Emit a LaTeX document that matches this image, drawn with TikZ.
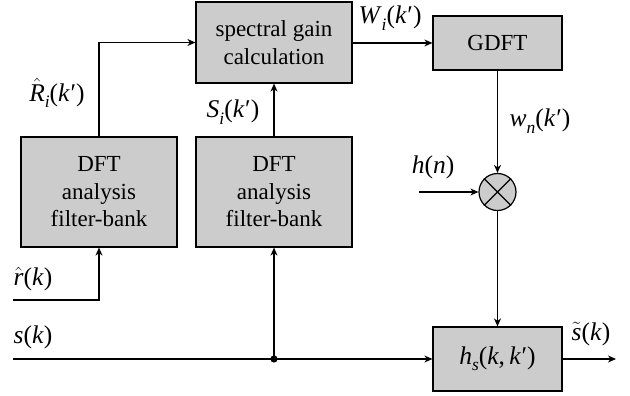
\documentclass[tikz,border=0pt]{standalone}
\usepackage{fontspec}
\setmainfont{Liberation Serif}
\usetikzlibrary{arrows.meta}
\newcommand{\mi}[1]{\textit{#1}}
\newcommand{\sbs}[1]{\raisebox{-0.25em}{\fontsize{17.5}{17.5}\selectfont\itshape #1}}
\newcommand{\prm}{\kern0.7pt′}
\tikzset{
  blk/.style={draw, fill=black!20, line width=1.2pt, inner sep=0pt, align=center},
  conn/.style={line width=1.2pt},
  arr/.style={conn, -{Stealth[length=8pt,width=7pt,inset=2.5pt]}},
  lbl/.style={inner sep=0pt, font=\fontsize{25.5}{30}\selectfont}
}
\begin{document}
\begin{tikzpicture}[x=1pt,y=-1pt,font=\fontsize{23}{27.5}\selectfont]
\useasboundingbox (0,0) rectangle (630,396);
\node[blk, minimum width=156pt, minimum height=81pt] (spec) at (274,42.5) {spectral gain\\calculation};
\node[blk, minimum width=129pt, minimum height=54pt] (gdft) at (497.5,43) {GDFT};
\node[blk, minimum width=156pt, minimum height=110pt] (dft1) at (99,192) {DFT\\analysis\\filter-bank};
\node[blk, minimum width=156pt, minimum height=110pt] (dft2) at (274,192) {DFT\\analysis\\filter-bank};
\node[blk, minimum width=129pt, minimum height=64pt, font=\fontsize{25.5}{30}\selectfont] (hs) at (497.5,359) {\mi{h}\sbs{s}(\mi{k},\,\mi{k}\prm)};
\node[draw, fill=black!20, circle, line width=1.2pt, minimum size=37pt, inner sep=0pt] (mul) at (497.5,192) {};
\draw[line width=1.2pt] (mul.north west) -- (mul.south east) (mul.north east) -- (mul.south west);
% coordinates
\coordinate (rin) at (13,300);
\coordinate (sin) at (13,359);
\coordinate (hin) at (419,192);
\coordinate (out) at (616,359);
\coordinate (split) at (274,359);
% connectors
\draw[arr] (dft1.north) |- (spec.west);
\draw[arr] (dft2.north) -- (spec.south);
\draw[arr] (spec.east |- gdft.west) -- (gdft.west);
\draw[arr] (gdft.south) -- (mul.north);
\draw[arr] (hin) -- (mul.west);
\draw[arr] (mul.south) -- (hs.north);
\draw[arr] (rin) -| (dft1.south);
\draw[arr] (sin) -- (hs.west);
\draw[arr] (split) -- (dft2.south);
\fill (split) circle (3.6pt);
\draw[arr] (hs.east) -- (out);
% labels
\node[lbl] (lR) at (57,93) {$\hat{\mbox{\itshape R}}$\sbs{i}(\mi{k}\prm)};
\node[lbl] (lS) at (233,112) {\mi{S}\sbs{i}(\mi{k}\prm)};
\node[lbl] (lW) at (390,18) {\mi{W}\sbs{i}(\mi{k}\prm)};
\node[lbl] (lw) at (540,121) {\mi{w}\sbs{n}(\mi{k}\prm)};
\node[lbl] (lh) at (433,167) {\mi{h}(\mi{n})};
\node[lbl] (lr) at (33,279) {$\hat{\mbox{\itshape r}}$(\mi{k})};
\node[lbl] (ls) at (33,337) {\mi{s}(\mi{k})};
\node[lbl] (lst) at (591,334) {$\tilde{\mbox{\itshape s}}$(\mi{k})};
\end{tikzpicture}
\end{document}
